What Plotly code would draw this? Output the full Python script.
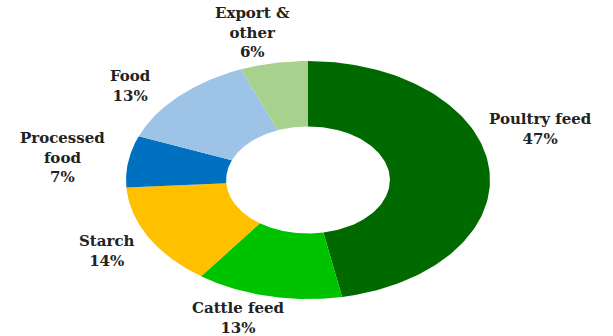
import numpy as np
import plotly.graph_objects as go

categories = ["Poultry feed", "Cattle feed", "Starch", "Processed food", "Food", "Export & other"]
values = [47, 13, 14, 7, 13, 6]
label_texts = ["Poultry feed<br>47%", "Cattle feed<br>13%", "Starch<br>14%",
               "Processed<br>food<br>7%", "Food<br>13%", "Export &<br>other<br>6%"]
colors = ["#006a00", "#00c300", "#ffc000", "#0070c0", "#9dc3e6", "#a9d18e"]

W, H = 613, 336
CX, CY = 308, 180      # donut centre in pixels
RX, RY = 182, 119      # outer radii in pixels (ellipse)
HOLE = 0.45

# label anchor positions in pixels
label_pos = [(540, 129), (238, 318), (107, 251), (62, 157), (130, 86), (252, 33)]

fig = go.Figure()
total = sum(values)
start = 0.0
for cat, v, c in zip(categories, values, colors):
    a0 = start / total * 2 * np.pi
    a1 = (start + v) / total * 2 * np.pi
    start += v
    t = np.linspace(a0, a1, 120)
    xo, yo = np.sin(t), np.cos(t)
    xi, yi = HOLE * np.sin(t[::-1]), HOLE * np.cos(t[::-1])
    xs = np.concatenate([xo, xi, xo[:1]])
    ys = np.concatenate([yo, yi, yo[:1]])
    fig.add_trace(go.Scatter(x=xs, y=ys, mode="lines", fill="toself",
                             fillcolor=c, line=dict(width=0, color=c),
                             name=cat, hoverinfo="name", showlegend=False))

for txt, (px, py) in zip(label_texts, label_pos):
    fig.add_annotation(x=px / W, y=1 - py / H, xref="paper", yref="paper",
                       text="<b>" + txt + "</b>", showarrow=False,
                       xanchor="center", yanchor="middle",
                       font=dict(family="DejaVu Serif", size=15, color="#222222"))

fig.update_xaxes(range=[-CX / RX, (W - CX) / RX], visible=False, fixedrange=True)
fig.update_yaxes(range=[-(H - CY) / RY, CY / RY], visible=False, fixedrange=True)
fig.update_layout(width=W, height=H, margin=dict(l=0, r=0, t=0, b=0),
                  paper_bgcolor="white", plot_bgcolor="white")
fig.write_html("out.html")
